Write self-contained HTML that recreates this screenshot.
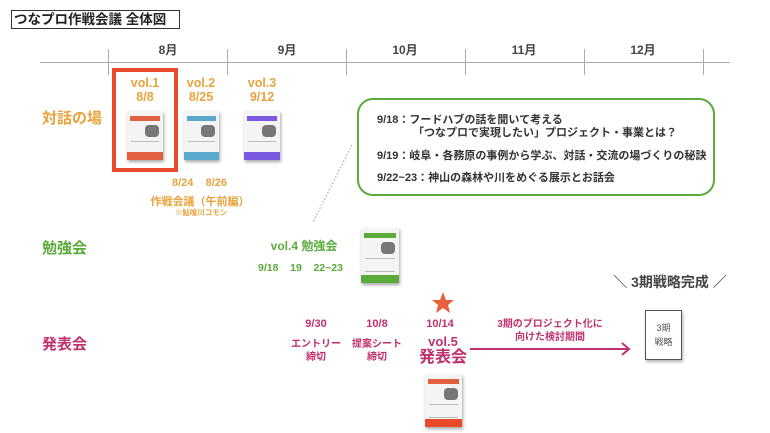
<!DOCTYPE html>
<html><head><meta charset="utf-8"><style>
body{margin:0;width:770px;height:433px;background:#fff;position:relative;overflow:hidden;font-family:"Liberation Sans","Noto Sans CJK JP",sans-serif;}
.a{position:absolute;white-space:nowrap;font-weight:bold;}
.c{transform:translateX(-50%);text-align:center;}
.o{color:#e8a33d}.g{color:#5aab3a}.m{color:#c0306e}
.fl{position:absolute;background:#f4f4f4;box-shadow:1px 2px 3px rgba(0,0,0,.35);}
.fl .h{position:absolute;left:3px;right:3px;top:5px;height:5px}
.fl .b{position:absolute;left:0;right:0;bottom:0;height:8px}
.fl .p{position:absolute;right:4px;top:14px;width:14px;height:12px;background:#777;border-radius:4px}
.fl .t{position:absolute;left:4px;right:4px;top:30px;height:12px;border-top:1px solid #bbb;border-bottom:1px solid #bbb}
.tk{position:absolute;top:49px;width:1px;height:26px;background:#aaa}
.mo{position:absolute;top:41px;font-size:12px;font-weight:bold;color:#444;transform:translateX(-50%)}
.gt{position:absolute;font-size:11px;color:#333;font-weight:bold;white-space:nowrap}
</style></head><body>
<div class="a" style="left:11px;top:10px;width:165px;height:17px;border:1px solid #333;font-size:13.5px;line-height:17px;color:#222;padding-left:2px">つなプロ作戦会議 全体図</div>
<div style="position:absolute;left:40px;top:62px;width:690px;height:1px;background:#aaa"></div>
<div class="tk" style="left:108px"></div><div class="tk" style="left:227px"></div><div class="tk" style="left:346px"></div><div class="tk" style="left:465px"></div><div class="tk" style="left:584px"></div><div class="tk" style="left:703px"></div>
<div class="mo" style="left:168px">8月</div><div class="mo" style="left:287px">9月</div><div class="mo" style="left:405px">10月</div><div class="mo" style="left:524px">11月</div><div class="mo" style="left:643px">12月</div>

<div style="position:absolute;left:112px;top:68px;width:58px;height:96px;border:4px solid #e84a2a"></div>
<div class="a o c" style="left:145px;top:76px;font-size:12.5px;line-height:14px">vol.1<br>8/8</div>
<div class="a o c" style="left:201px;top:76px;font-size:12.5px;line-height:14px">vol.2<br>8/25</div>
<div class="a o c" style="left:262px;top:76px;font-size:12.5px;line-height:14px">vol.3<br>9/12</div>
<div class="a o" style="left:42px;top:107px;font-size:15px">対話の場</div>
<div class="fl" style="left:127px;top:111px;width:36px;height:49px"><div class="h" style="background:#e06040"></div><div class="p"></div><div class="t"></div><div class="b" style="background:#e06040"></div></div>
<div class="fl" style="left:184px;top:111px;width:35px;height:49px"><div class="h" style="background:#5aa8cc"></div><div class="p"></div><div class="t"></div><div class="b" style="background:#5aa8cc"></div></div>
<div class="fl" style="left:244px;top:111px;width:36px;height:49px"><div class="h" style="background:#7a5ae0"></div><div class="p"></div><div class="t"></div><div class="b" style="background:#7a5ae0"></div></div>
<div class="a o" style="left:172px;top:177px;font-size:11px">8/24 &nbsp;&nbsp; 8/26</div>
<div class="a o c" style="left:200px;top:193px;font-size:11px">作戦会議（午前編）</div>
<div class="a o c" style="left:201px;top:207px;font-size:7.5px">※鮎喰川コモン</div>

<div style="position:absolute;left:357px;top:98px;width:354px;height:94px;border:2.5px solid #5aab3a;border-radius:16px"></div>
<div class="gt" style="left:377px;top:111px">9/18：フードハブの話を聞いて考える</div>
<div class="gt" style="left:413px;top:124px">「つなプロで実現したい」プロジェクト・事業とは？</div>
<div class="gt" style="left:377px;top:147px">9/19：岐阜・各務原の事例から学ぶ、対話・交流の場づくりの秘訣</div>
<div class="gt" style="left:377px;top:169px">9/22~23：神山の森林や川をめぐる展示とお話会</div>
<svg style="position:absolute;left:0;top:0" width="770" height="433"><line x1="352" y1="145" x2="313" y2="222" stroke="#8a8" stroke-width="1" stroke-dasharray="1.5,2"/>
<line x1="470" y1="349" x2="628" y2="349" stroke="#c0306e" stroke-width="2"/><polyline points="622,343 629,349 622,355" fill="none" stroke="#c0306e" stroke-width="2"/>
<polygon points="443,292 446,300 454,300 448,305 450,313 443,308 436,313 438,305 432,300 440,300" fill="#e8603c"/></svg>

<div class="a g" style="left:42px;top:237px;font-size:15px">勉強会</div>
<div class="a g c" style="left:304px;top:237px;font-size:12px">vol.4 勉強会</div>
<div class="a g" style="left:258px;top:262px;font-size:10.5px">9/18 &nbsp;&nbsp; 19 &nbsp;&nbsp; 22~23</div>
<div class="fl" style="left:361px;top:228px;width:38px;height:55px"><div class="h" style="background:#5aab3a"></div><div class="p"></div><div class="t"></div><div class="b" style="background:#5aab3a"></div></div>

<div class="a c" style="left:670px;top:272px;font-size:14px;color:#444;font-weight:bold">＼ 3期戦略完成 ／</div>

<div class="a m" style="left:42px;top:333px;font-size:15px">発表会</div>
<div class="a m c" style="left:316px;top:318px;font-size:11px">9/30</div>
<div class="a m c" style="left:377px;top:318px;font-size:11px">10/8</div>
<div class="a m c" style="left:440px;top:318px;font-size:11px">10/14</div>
<div class="a m c" style="left:316px;top:338px;font-size:10px;line-height:13px">エントリー<br>締切</div>
<div class="a m c" style="left:377px;top:338px;font-size:10px;line-height:13px">提案シート<br>締切</div>
<div class="a m c" style="left:443px;top:334px;font-size:13px;line-height:16px">vol.5<br><span style="font-size:16px">発表会</span></div>
<div class="a m c" style="left:550px;top:318px;font-size:10px;line-height:13px">3期のプロジェクト化に<br>向けた検討期間</div>
<div style="position:absolute;left:645px;top:310px;width:37px;height:50px;border:1px solid #555;box-shadow:1px 2px 3px rgba(0,0,0,.3);font-size:9px;color:#555;text-align:center;line-height:14px;padding-top:10px;box-sizing:border-box">3期<br>戦略</div>
<div class="fl" style="left:425px;top:374px;width:37px;height:53px"><div class="h" style="background:#e06040"></div><div class="p"></div><div class="t"></div><div class="b" style="background:#e84a2a"></div></div>
</body></html>
